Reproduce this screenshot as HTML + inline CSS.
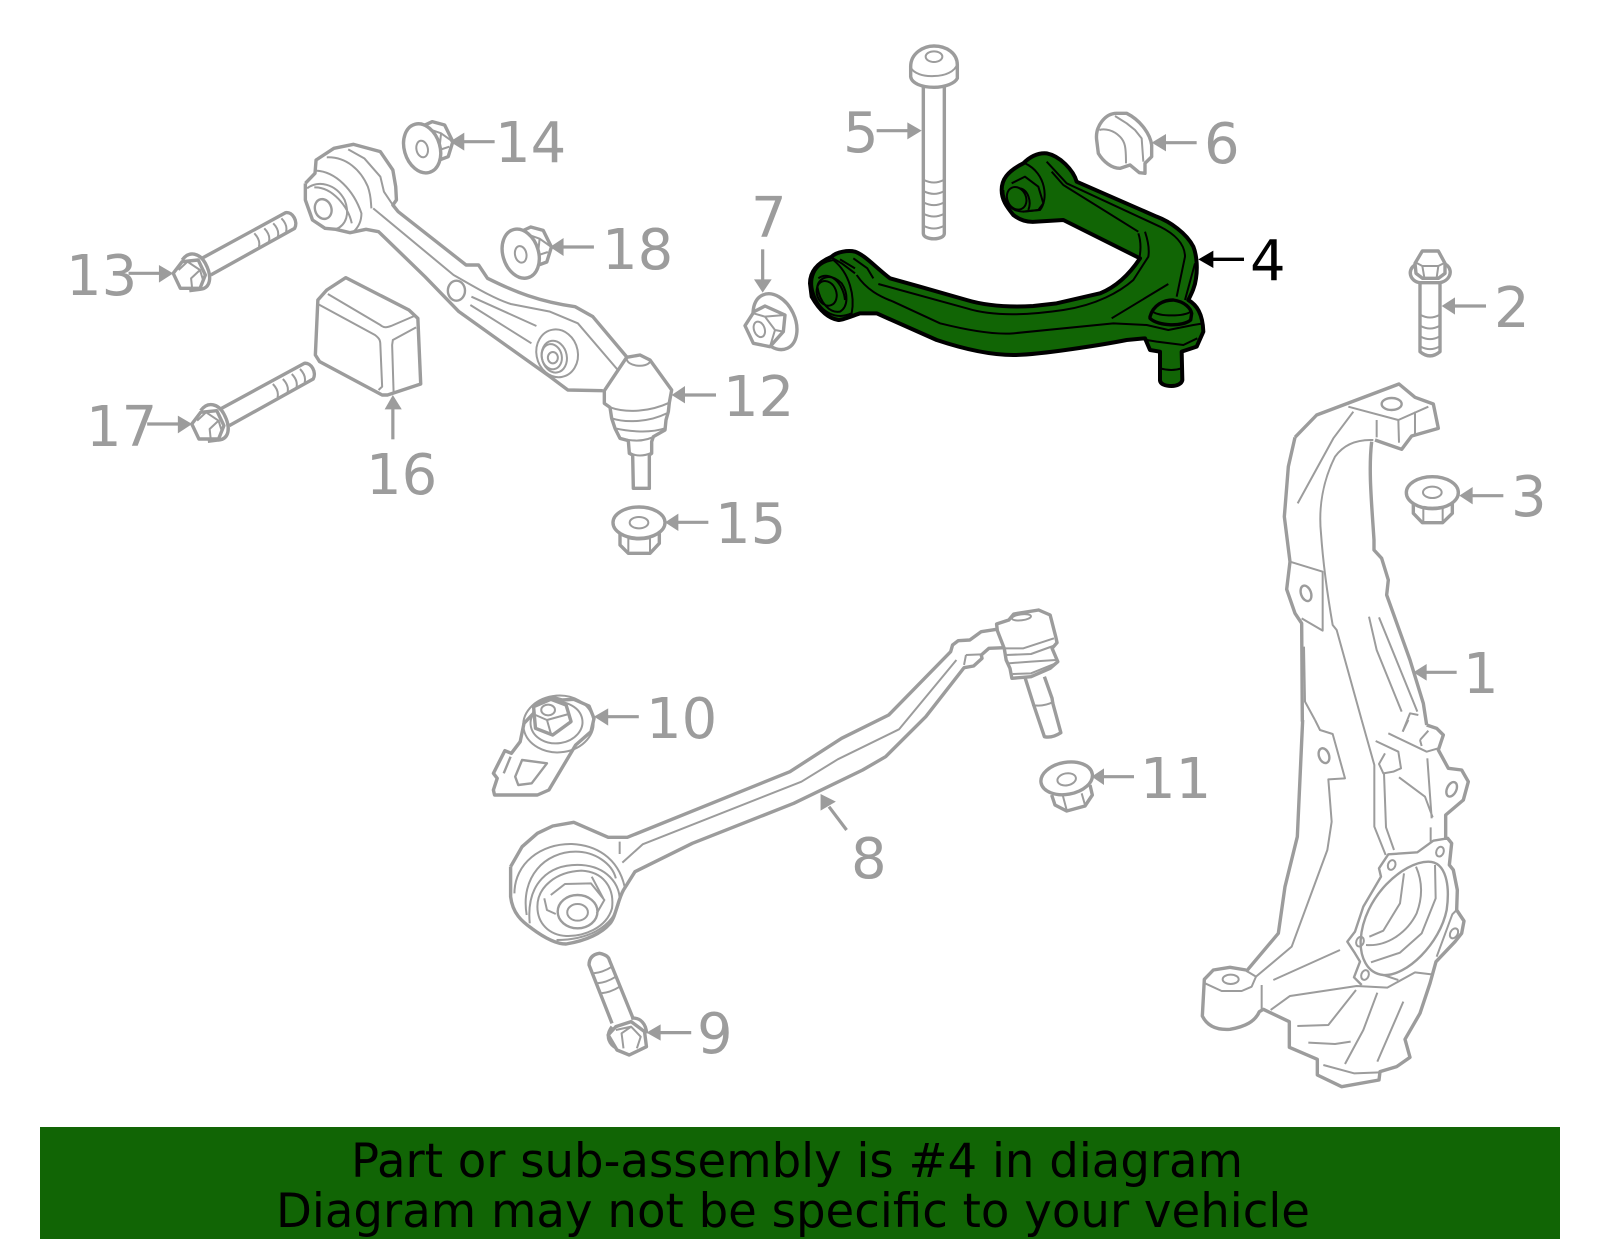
<!DOCTYPE html>
<html><head><meta charset="utf-8"><style>
html,body{margin:0;padding:0;background:#fff}
svg{display:block}
path,ellipse,polygon{vector-effect:non-scaling-stroke;stroke-linejoin:round;stroke-linecap:butt}
.g path,.g ellipse{fill:none;stroke:#9c9c9c;stroke-width:2}
.g .t{stroke-width:3.4}
.g .w{fill:#fff}
.g .a{fill:#9c9c9c;stroke:none}
.g .l{stroke-width:3.2}
text{font-family:"DejaVu Sans","Liberation Sans",sans-serif}
.n{font-size:56px;fill:#9c9c9c}
.k path,.k ellipse{fill:none;stroke:#000;stroke-width:2}
.k .o{fill:#116505;stroke-width:4}
.k .t{stroke-width:3.4}
</style></head><body>
<svg width="1600" height="1249" viewBox="0 0 1600 1249" xmlns="http://www.w3.org/2000/svg">
<rect width="1600" height="1249" fill="#fff"/>

<!-- ZOOM 1 REGION -->
<g class="g" transform="translate(780,30) scale(.33333)">
<path class="t" d="M392 110C392 70 430 48 462 48C500 48 532 70 532 105L532 145C525 160 495 172 462 172C425 172 395 160 392 140Z"/>
<path d="M392 112C400 130 430 140 462 138C495 138 525 125 532 102"/>
<ellipse cx="462" cy="80" rx="25" ry="16"/>
<path class="t" d="M430 172L430 610C430 632 493 632 493 610L493 172"/>
<path d="M432 450Q462 465 491 450M432 484Q462 499 491 484M432 518Q462 533 491 518M432 552Q462 567 491 552M432 588Q462 603 491 588"/>
<path class="l" d="M290 302L385 302"/><polygon class="a" points="425,302 382,277 382,328"/>
<path class="t" d="M950 330C945 290 975 250 1010 250L1040 250C1080 270 1110 310 1115 345L1115 380L1095 400L1095 430L1078 428L1050 405L1020 415C995 415 970 395 955 370Z"/>
<path d="M958 300C975 295 1000 300 1020 320C1035 335 1038 350 1038 400M1005 258L1040 280L1065 300L1085 325L1090 395"/>
<path class="l" d="M1250 338L1150 338"/><polygon class="a" points="1115,338 1158,312 1158,364"/>
</g>
<g class="k" transform="translate(780,30) scale(.33333)">
<path class="o" d="M90 760C90 720 120 695 155 680C170 665 205 660 225 665C255 675 290 715 330 745L420 770L560 810C620 828 690 832 760 828L830 820L960 790C1010 770 1050 730 1080 685L850 570L770 575C740 578 720 570 700 555C680 530 665 510 665 480C665 450 680 425 730 400C750 380 775 368 800 370C840 378 880 420 890 455L1130 560C1170 575 1220 610 1240 650C1252 680 1252 720 1248 745C1245 770 1235 790 1225 810C1250 825 1268 850 1270 905L1250 950L1205 965L1207 1050C1205 1062 1190 1068 1175 1068C1155 1068 1140 1062 1140 1050L1140 965L1110 960L1095 925L1040 930C980 942 780 975 700 975C620 975 530 950 470 930L290 850L240 850C210 860 190 870 175 870C140 865 115 835 95 800Z"/>
<path d="M160 690C100 700 85 750 105 800C125 850 170 870 215 850C225 800 210 730 160 690Z"/>
<path d="M112 770C115 745 150 725 185 760C205 790 205 830 180 845C150 850 120 820 112 770Z"/>
<ellipse cx="140" cy="790" rx="29" ry="38" transform="rotate(-20 140 790)"/>
<path d="M115 745C150 720 190 760 195 810M150 680L185 700L225 730M180 688L225 715M220 685L262 715L280 745"/>
<path d="M230 735C260 780 300 800 340 815L480 880C560 900 640 915 700 910L1000 880L1100 885L1165 900L1240 885L1270 880"/>
<path d="M295 762L560 835C640 860 750 855 850 840C950 825 1020 785 1060 750L1105 680C1110 650 1100 620 1095 605"/>
<path d="M1075 610C1085 640 1082 665 1078 685M800 395L860 460L1140 590C1180 610 1215 640 1215 680L1190 800M815 425L850 465L1075 605M1245 700L1215 810M1165 762L995 865"/>
<path d="M735 400C800 430 805 510 780 540L730 545C690 545 670 510 670 480"/>
<path d="M695 460L735 440L775 470L790 520L775 540L730 545"/>
<ellipse cx="710" cy="505" rx="28" ry="35" transform="rotate(-25 710 505)"/>
<path d="M720 475C745 480 755 515 745 540"/>
<path class="t" d="M1110 860C1120 825 1150 810 1180 810C1215 815 1232 835 1235 850L1232 870C1210 890 1135 890 1110 865Z"/>
<path d="M1118 845C1140 860 1210 860 1232 845M1100 930L1130 935L1210 945L1252 925M1140 1015Q1175 1025 1205 1015"/>
<path class="t" d="M1392 688L1295 688"/><polygon fill="#000" stroke="none" points="1255,688 1300,662 1300,714"/>
</g>

<!-- ZOOM 2 REGION -->
<g class="g" transform="translate(50,100) scale(.35714,.33333)">
<path class="t" d="M715 250L742 220L745 180L795 145L850 133L925 155L960 210L968 260L970 300L960 315L975 335L1165 495L1200 495L1225 535C1300 575 1370 605 1470 620L1520 650L1615 771"/>
<path class="t" d="M1548 872L1450 870L1400 830L1145 635L1050 530L920 395L885 388L840 398L800 388L770 385L735 360L715 300L715 250"/>
<path d="M775 172C830 170 870 210 890 260C900 290 898 310 900 325M745 212C800 215 850 270 872 340C872 360 865 380 850 395M835 148L880 175L925 230L935 275L960 315"/>
<path d="M720 265C750 240 800 250 825 300C840 340 830 375 800 388M740 262C790 260 835 320 845 370"/>
<ellipse class="t" style="stroke-width:2.4" cx="765" cy="327" rx="23" ry="30" transform="rotate(-15 765 327)"/>
<path d="M905 325L1130 525C1180 555 1240 595 1290 612L1400 635L1478 670L1590 810"/>
<ellipse cx="1138" cy="572" rx="24" ry="30" style="stroke-width:2.4"/>
<path d="M1180 590L1362 678M1177 615L1348 730"/>
<ellipse cx="1420" cy="760" rx="58" ry="72" transform="rotate(-10 1420 760)"/>
<ellipse cx="1412" cy="770" rx="35" ry="48" transform="rotate(-10 1412 770)"/>
<ellipse cx="1405" cy="770" rx="28" ry="38" transform="rotate(-10 1405 770)"/>
<ellipse cx="1408" cy="773" rx="14" ry="17"/>

<g>
<path class="t" d="M1040 80L1070 65L1105 75L1128 125L1115 170L1090 180"/>
<path d="M1055 85L1095 100L1128 125M1095 100L1090 150L1118 140"/>
<ellipse class="t w" cx="1042" cy="145" rx="50" ry="75" transform="rotate(-15 1042 145)"/>
<ellipse cx="1042" cy="147" rx="16" ry="25" transform="rotate(-10 1042 147)"/>
</g>
<g transform="translate(276,316)">
<path class="t" d="M1040 80L1070 65L1105 75L1128 125L1115 170L1090 180"/>
<path d="M1055 85L1095 100L1128 125M1095 100L1090 150L1118 140"/>
<ellipse class="t w" cx="1042" cy="145" rx="50" ry="75" transform="rotate(-15 1042 145)"/>
<ellipse cx="1042" cy="147" rx="16" ry="25" transform="rotate(-10 1042 147)"/>
</g>
<path class="l" d="M1245 125L1155 125"/><polygon class="a" points="1120,125 1160,98 1160,152"/>
<path class="l" d="M1523 441L1435 441"/><polygon class="a" points="1400,441 1438,414 1438,468"/>

<g>
<path class="t" d="M425 475L660 338C680 335 695 365 685 385L450 525"/>
<path d="M572 400Q590 420 585 440M600 385Q618 405 613 425M625 370Q643 390 638 410M648 355Q666 375 661 395"/>
<path class="t w" d="M370 480C390 450 420 460 435 490C455 530 450 565 420 568L390 572"/>
<path class="t w" d="M345 520L370 485L415 480L435 525L420 565L365 565Z"/>
<path d="M385 485L420 510L430 545M420 510L395 535L398 565M360 510L385 485"/>
</g>
<g transform="translate(52,452)">
<path class="t" d="M425 475L660 338C680 335 695 365 685 385L450 525"/>
<path d="M572 400Q590 420 585 440M600 385Q618 405 613 425M625 370Q643 390 638 410M648 355Q666 375 661 395"/>
<path class="t w" d="M370 480C390 450 420 460 435 490C455 530 450 565 420 568L390 572"/>
<path class="t w" d="M345 520L370 485L415 480L435 525L420 565L365 565Z"/>
<path d="M385 485L420 510L430 545M420 510L395 535L398 565M360 510L385 485"/>
</g>
<path class="l" d="M220 520L310 520"/><polygon class="a" points="345,520 305,495 305,548"/>
<path class="l" d="M272 972L362 972"/><polygon class="a" points="398,972 358,947 358,1000"/>

<path class="t" d="M750 600L775 570L828 533L1005 630L1030 655L1038 852L945 885L930 885L755 785L743 765Z"/>
<path d="M778 582L925 675C935 685 945 682 955 678L1020 648M750 612L910 705C922 715 925 720 925 735L930 860L920 870M1025 682L960 720L958 735L962 875"/>
<path class="l" d="M960 1018L960 925"/><polygon class="a" points="960,885 937,928 985,928"/>
</g>

<!-- ZOOM 7 REGION -->
<g class="g" transform="translate(560,320) scale(.33333)">
<path class="t w" d="M133 212L200 112L240 105L270 120L335 210L328 248L325 275L318 300L315 330L280 350L275 365L275 400L268 405L268 505L220 505L218 405L208 400L205 362L180 355L165 325L155 295L150 262L133 250Z"/>
<path d="M150 262C200 280 270 275 328 248M155 295C200 310 270 305 320 280M165 325C210 335 270 340 315 325M180 355C220 365 260 365 290 345M205 398Q240 415 275 398M200 115C200 140 260 145 270 125"/>
<path class="l" d="M468 225L370 225"/><polygon class="a" points="335,225 375,198 375,250"/>
<ellipse class="t" cx="237" cy="608" rx="78" ry="47"/>
<ellipse cx="237" cy="608" rx="28" ry="17"/>
<path class="t" d="M180 640L180 675L205 700L270 700L298 670L298 640"/>
<path d="M205 655L205 695M270 655L270 695M205 655Q237 662 270 655"/>
<path class="l" d="M445 607L350 607"/><polygon class="a" points="315,607 355,581 355,633"/>
</g>

<!-- ZOOM 8 REGION -->
<g class="g" transform="translate(720,180) scale(.33333)">
<ellipse class="t" cx="165" cy="425" rx="60" ry="88" transform="rotate(-25 165 425)"/>
<path class="t w" d="M75 437L102 395L135 378L195 405L190 455L150 500L100 490Z"/>
<path d="M135 410L165 450L150 500M165 450L190 455M100 400L135 410L195 405"/>
<ellipse cx="118" cy="448" rx="16" ry="24" transform="rotate(-20 118 448)"/>
<path class="l" d="M128 208L128 305"/><polygon class="a" points="128,338 102,298 155,298"/>
</g>

<!-- ZOOM 9 REGION -->
<g class="g" transform="translate(1390,240) scale(.33333)">
<path class="t" d="M75 75C50 90 60 125 90 128L150 128C185 120 190 85 165 72"/>
<path class="t" d="M75 70L97 33L145 33L165 70L165 100L145 115L98 115L78 100Z"/>
<path d="M78 68L97 78L145 78L165 68M97 78L103 113M145 78L140 113"/>
<path class="t" d="M90 130L90 335Q120 360 150 335L150 130"/>
<path d="M92 225Q120 240 148 225M92 258Q120 273 148 258M92 290Q120 305 148 290M92 320Q120 335 148 320"/>
<path class="l" d="M288 198L190 198"/><polygon class="a" points="155,198 195,172 195,224"/>
<ellipse class="t" cx="127" cy="758" rx="78" ry="48"/>
<ellipse cx="127" cy="757" rx="28" ry="17"/>
<path class="t" d="M70 790L70 820L97 848L158 848L187 820L187 790"/>
<path d="M100 800L100 845M158 800L158 845M100 800Q127 806 158 800"/>
<path class="l" d="M340 767L243 767"/><polygon class="a" points="208,767 248,741 248,793"/>
</g>

<!-- ZOOM 10 REGION -->
<g class="g" transform="translate(1030,740) scale(.33333)">
<ellipse class="t" cx="110" cy="115" rx="78" ry="48" transform="rotate(-10 110 115)"/>
<ellipse cx="110" cy="118" rx="28" ry="18" transform="rotate(-10 110 118)"/>
<path class="t" d="M65 165L75 195L110 213L165 198L187 165L180 135"/>
<path d="M98 165L110 210M155 160L165 195"/>
<path class="l" d="M312 110L220 110"/><polygon class="a" points="185,110 222,85 222,135"/>
</g>

<!-- KNUCKLE upper -->
<g class="g" transform="translate(1180,360) scale(.33333)">
<path class="t" d="M345 232L410 165L657 72L705 112L760 132L775 205L695 228L665 268L585 240"/>
<path class="t" d="M345 232L325 320L313 470L330 605L320 688L345 760L365 790L367 1085"/>
<path class="t" d="M575 245C565 330 575 430 582 540L582 570L605 595L625 660L620 705L690 900L730 1030L740 1095"/>
<path d="M505 140L655 180L745 140M655 180L657 248M590 180L590 232M705 155L705 222"/>
<ellipse cx="635" cy="132" rx="30" ry="18" style="stroke-width:2.4"/>
<path d="M520 155L460 235L353 430M580 240C530 238 490 255 465 290C430 360 415 440 423 520C430 620 445 720 458 795L470 810L545 1080"/>
<path d="M330 605L428 635L428 812L365 775"/>
<ellipse cx="378" cy="700" rx="15" ry="24" transform="rotate(-20 378 700)" style="stroke-width:2.4"/>
<path d="M372 860L375 1025L405 1080M567 770L590 870L665 1055M597 772L712 1055M668 1115L690 1060L715 1065"/>
<path class="l" d="M830 937L735 937"/><polygon class="a" points="700,937 740,912 740,962"/>
</g>
<!-- KNUCKLE lower -->
<g class="g" transform="translate(1180,720) scale(.33333)">
<path class="t" d="M368 0L352 350L315 500L295 640L198 755"/>
<path class="t" d="M198 750L150 742L100 750L73 778L67 888C85 925 120 930 150 928C195 920 225 905 238 875L250 868L328 905L328 982L412 1018L412 1065L485 1100L597 1080L600 1055L650 1040L690 1012L675 958L720 880L750 790L768 725L825 665L845 640L852 603L830 570L832 510L820 450L808 435L815 370L803 355L797 355L797 285L850 240L865 185L845 150L805 145L775 90L790 45L770 25L740 15"/>
<path d="M75 790L125 813L185 813L215 800L228 770L198 752"/>
<ellipse cx="152" cy="778" rx="24" ry="14"/>
<path d="M245 795L245 868M228 770L335 680L442 390L455 305L445 178L495 175L458 42L420 30L405 0"/>
<ellipse cx="432" cy="107" rx="15" ry="23" transform="rotate(-20 432 107)" style="stroke-width:2.4"/>
<path d="M280 780L480 690M272 870L330 828L530 798L622 803L705 757L755 763"/>
<path d="M528 810L445 915L352 918M385 968L465 972L512 965M592 818L550 930L495 1032M670 845L592 1025M430 1035L522 1060L600 1057"/>
<path style="stroke-width:2.4" d="M808 435L815 370L803 355L760 362L712 397L625 403L597 445L603 470L550 560L525 635L502 665L525 700L540 725L522 772L545 795"/>
<path style="stroke-width:2.4" d="M542 660C550 530 670 425 745 425C800 425 810 500 800 570C780 670 680 770 610 765C560 760 540 710 542 660Z"/>
<ellipse cx="635" cy="435" rx="11" ry="15" transform="rotate(20 635 435)"/>
<ellipse cx="780" cy="395" rx="11" ry="15" transform="rotate(20 780 395)"/>
<ellipse cx="540" cy="665" rx="11" ry="15" transform="rotate(20 540 665)"/>
<ellipse cx="555" cy="765" rx="11" ry="15" transform="rotate(20 555 765)"/>
<ellipse cx="822" cy="640" rx="11" ry="16" transform="rotate(30 822 640)"/>
<ellipse cx="815" cy="208" rx="14" ry="23" transform="rotate(25 815 208)" style="stroke-width:2.4"/>
<path d="M672 460L660 550L610 632L568 650M708 440C730 490 725 540 710 580C680 640 620 680 558 675M765 435L767 535L725 640L660 698L573 727M830 570L817 583L770 710M610 765L655 780"/>
<path d="M545 0L583 135L583 320L617 405M612 160L618 322L642 390M587 63L655 95L663 145L640 155L610 160L597 132L615 100M657 172L735 230L758 292M742 115L755 295M752 322L752 365M625 40L740 95L775 85M720 60L745 32M720 60L725 78M668 35L685 0"/>
</g>

<!-- ZOOM 5 REGION -->
<g class="g" transform="translate(480,600) scale(.38265,.33333)">
<path class="t" d="M80 800L110 740L150 700L190 678L245 667L335 712L385 712L810 515L945 415L1068 345L1230 155L1235 135L1250 122L1280 120L1310 95L1350 88"/>
<path class="t" d="M1370 143L1330 145L1310 165L1312 175L1290 198L1265 203L1165 350L1060 470L1000 510L820 610L555 730L405 815L375 870C360 900 355 950 340 970C310 1010 260 1025 225 1032C200 1032 170 1015 135 985C110 965 85 940 80 890L80 800"/>
<path d="M365 725L365 762M372 788L425 733L840 545L935 478L1095 388L1245 180M1270 165L1310 163M1270 165L1265 195"/>
<path d="M90 880C90 790 160 730 240 732C300 735 360 770 378 860M122 945C105 830 170 755 250 755C300 755 345 790 355 835M130 970C120 850 180 790 265 795C330 800 365 850 365 900C350 990 270 1020 200 1020"/>
<path d="M150 920C150 860 200 815 265 812C320 815 352 860 345 925C330 985 270 1010 225 1008C180 1005 150 970 150 920Z"/>
<path d="M185 885L222 852L290 850L325 900L305 940M168 895L175 930L198 942M292 830L322 895"/>
<ellipse cx="255" cy="935" rx="52" ry="50" style="stroke-width:2.4"/>
<ellipse cx="255" cy="937" rx="27" ry="25"/>
<path class="t" d="M1350 72L1382 60L1395 42L1460 30L1490 45L1505 112L1508 128L1495 145L1510 185L1490 205L1440 230L1390 235L1385 205L1375 180L1370 145L1352 92Z"/>
<ellipse cx="1415" cy="52" rx="25" ry="9" transform="rotate(-8 1415 52)"/>
<path d="M1370 145L1420 145L1500 115M1375 165L1440 162L1505 135M1380 190L1440 185L1505 180M1392 222L1440 220L1505 190"/>
<path class="t" d="M1425 235L1447 315L1475 410Q1495 415 1518 398L1497 310L1495 295L1475 230"/>
<path d="M1443 315Q1470 322 1500 305"/>
<path class="l" d="M958 690L912 620"/><polygon class="a" points="890,582 890,632 930,605"/>

<path class="t" d="M35 520L65 452L82 460L105 425L115 370L140 340L145 312L190 292L215 300L245 298L285 318L298 355L290 395L250 435L180 570L150 585L38 585L35 570L45 535Z"/>
<ellipse cx="205" cy="372" rx="92" ry="85" transform="rotate(-10 205 372)"/>
<ellipse cx="200" cy="368" rx="68" ry="62" transform="rotate(-10 200 368)"/>
<path class="t w" d="M140 320L185 298L225 315L238 365L190 405L145 385Z"/>
<path d="M145 345L175 360L232 342M175 360L185 400"/>
<ellipse cx="178" cy="330" rx="18" ry="16"/>
<path style="stroke-width:2.4" d="M110 480L175 490L135 550L100 555L92 530ZM62 520L80 470"/>
<path class="l" d="M415 350L330 350"/><polygon class="a" points="298,350 335,325 335,377"/>

<path class="t" d="M345 1270L285 1095Q285 1065 312 1060Q335 1065 338 1080L400 1255"/>
<path d="M295 1120Q320 1118 345 1100M305 1150Q330 1148 355 1130M315 1180Q340 1178 365 1160"/>
<path class="t" d="M345 1280C325 1310 340 1335 358 1345M395 1255C420 1250 435 1275 435 1300"/>
<path class="t w" d="M335 1305L355 1280L395 1265L430 1295L435 1340L390 1365L358 1350Z"/>
<path d="M355 1290L395 1280L420 1310L410 1345M395 1280L370 1300L375 1345"/>
<path class="l" d="M552 1298L468 1298"/><polygon class="a" points="435,1298 472,1273 472,1322"/>
</g>

<!-- LABELS -->
<text class="n" x="1463" y="693">1</text>
<text class="n" x="1494" y="327">2</text>
<text class="n" x="1511" y="516">3</text>
<text class="n" x="1250" y="280" style="fill:#000">4</text>
<text class="n" x="843" y="152">5</text>
<text class="n" x="1204" y="163">6</text>
<text class="n" x="751" y="237">7</text>
<text class="n" x="851" y="878">8</text>
<text class="n" x="697" y="1053">9</text>
<text class="n" x="646" y="738">10</text>
<text class="n" x="1140" y="798">11</text>
<text class="n" x="723" y="416">12</text>
<text class="n" x="66" y="295">13</text>
<text class="n" x="495" y="162">14</text>
<text class="n" x="715" y="543">15</text>
<text class="n" x="366" y="494">16</text>
<text class="n" x="86" y="446">17</text>
<text class="n" x="602" y="269">18</text>

<!-- BANNER -->
<rect x="40" y="1127" width="1520" height="112" fill="#116505"/>
<text x="351" y="1177" font-size="47" fill="#000" textLength="892" lengthAdjust="spacingAndGlyphs">Part or sub-assembly is #4 in diagram</text>
<text x="276" y="1227" font-size="47" fill="#000" textLength="1034" lengthAdjust="spacingAndGlyphs">Diagram may not be specific to your vehicle</text>
</svg>
</body></html>
